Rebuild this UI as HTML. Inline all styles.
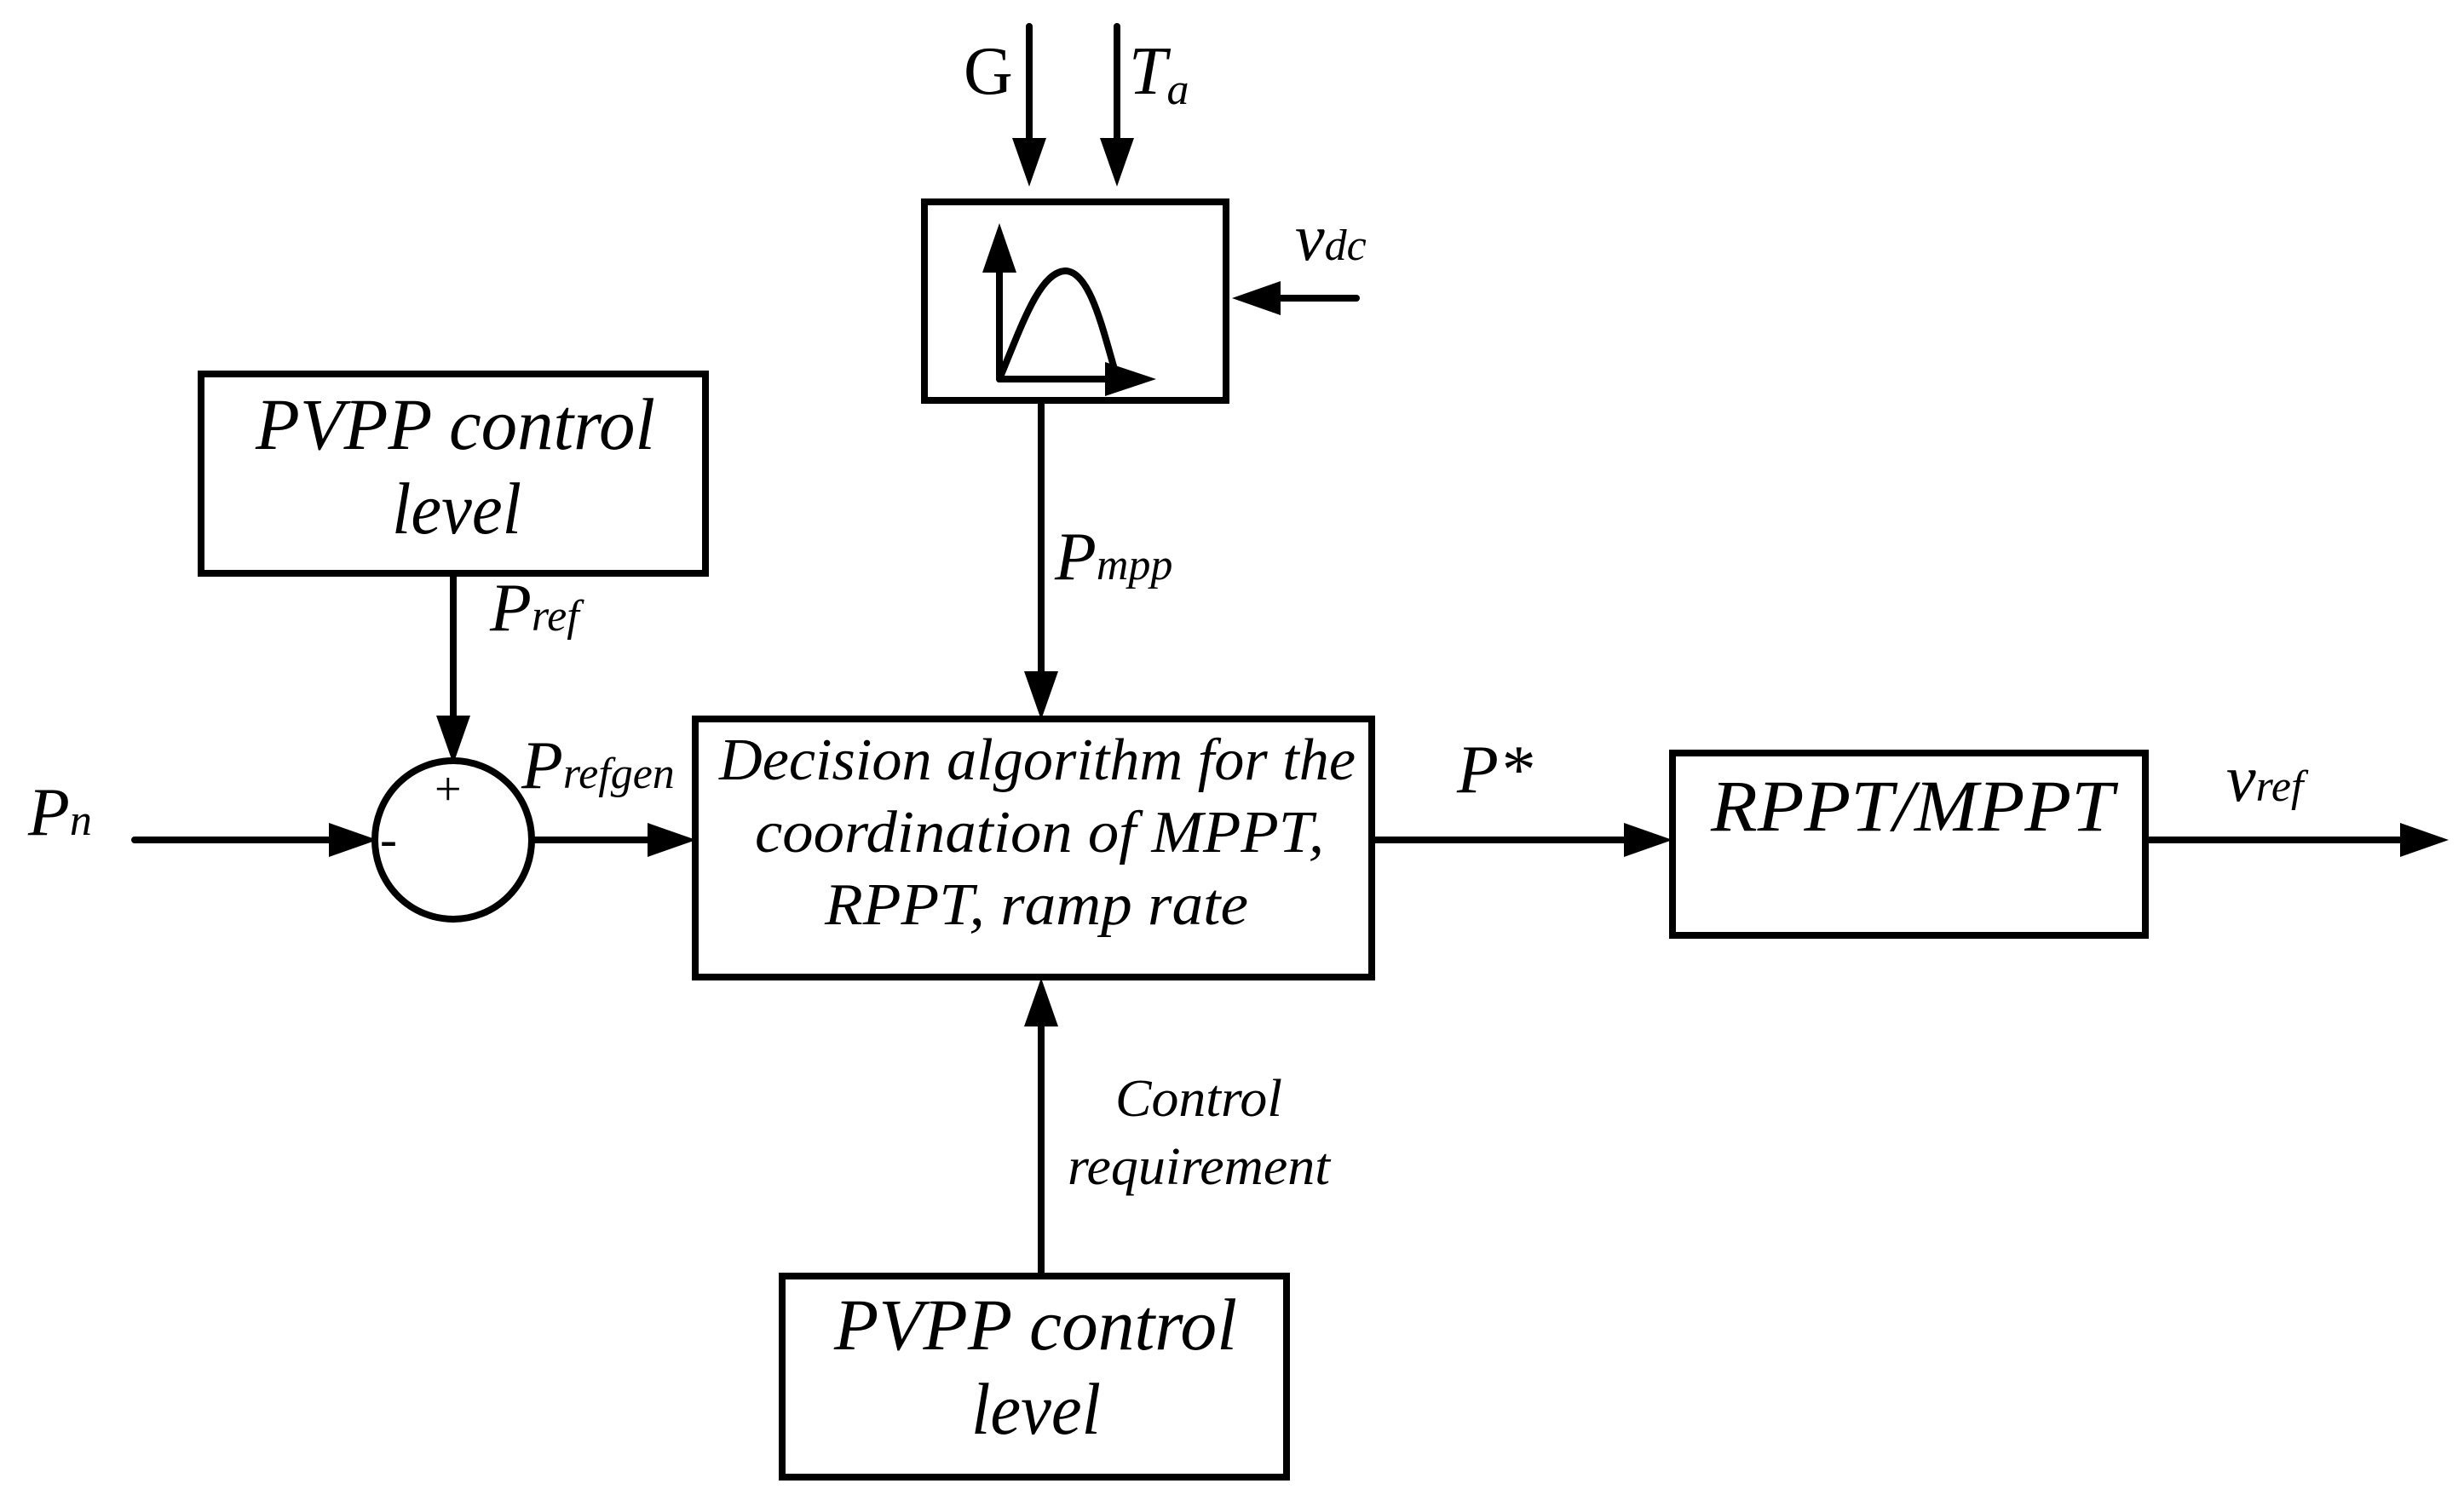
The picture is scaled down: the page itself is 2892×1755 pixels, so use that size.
<!DOCTYPE html>
<html><head><meta charset="utf-8"><style>html,body{margin:0;padding:0;background:#fff}svg{display:block}text{font-family:"Liberation Serif","Times New Roman",serif;font-style:italic;fill:#000}</style></head>
<body>
<svg width="2892" height="1755" viewBox="0 0 2892 1755" xmlns="http://www.w3.org/2000/svg">
<g stroke="#000" stroke-width="8" fill="none" stroke-linecap="round">
<rect x="236" y="439" width="592" height="234"/>
<rect x="816" y="844" width="794" height="303"/>
<rect x="1085" y="237" width="354" height="233"/>
<rect x="1963" y="884" width="555" height="214"/>
<rect x="918" y="1498" width="592" height="236"/>
<ellipse cx="532" cy="986" rx="92" ry="93"/>
<line x1="532" y1="673" x2="532" y2="850"/>
<line x1="158" y1="986" x2="395" y2="986"/>
<line x1="625" y1="986" x2="770" y2="986"/>
<line x1="1222" y1="470" x2="1222" y2="795"/>
<line x1="1208" y1="31" x2="1208" y2="170"/>
<line x1="1311" y1="31" x2="1311" y2="170"/>
<line x1="1592" y1="350" x2="1495" y2="350"/>
<line x1="1610" y1="986" x2="1912" y2="986"/>
<line x1="2518" y1="986" x2="2820" y2="986"/>
<line x1="1222" y1="1498" x2="1222" y2="1200"/>
<line x1="1173" y1="445" x2="1173" y2="310"/>
<line x1="1173" y1="445" x2="1300" y2="445"/>
<path d="M1173 445 C1200 380 1220 320 1250 318 C1280 318 1295 390 1310 440"/>
</g>
<g fill="#000">
<polygon points="512,840 552,840 532,897"/>
<polygon points="386,966 386,1006 443,986"/>
<polygon points="760,966 760,1006 817,986"/>
<polygon points="1202,788 1242,788 1222,845"/>
<polygon points="1188,162 1228,162 1208,219"/>
<polygon points="1291,162 1331,162 1311,219"/>
<polygon points="1503,330 1503,370 1446,350"/>
<polygon points="1906,966 1906,1006 1963,986"/>
<polygon points="2817,966 2817,1006 2874,986"/>
<polygon points="1202,1205 1242,1205 1222,1148"/>
<polygon points="1153,320 1193,320 1173,262"/>
<polygon points="1297,425 1297,465 1357,445"/>
</g>
<text x="300" y="527" font-size="86" textLength="469" lengthAdjust="spacingAndGlyphs">PVPP control</text>
<text x="460" y="626" font-size="86" textLength="152" lengthAdjust="spacingAndGlyphs">level</text>
<text x="979" y="1584" font-size="86" textLength="473" lengthAdjust="spacingAndGlyphs">PVPP control</text>
<text x="1140" y="1683" font-size="86" textLength="152" lengthAdjust="spacingAndGlyphs">level</text>
<text x="844" y="915" font-size="70" textLength="747" lengthAdjust="spacingAndGlyphs">Decision algorithm for the</text>
<text x="886" y="1000" font-size="70" textLength="668" lengthAdjust="spacingAndGlyphs">coordination of MPPT,</text>
<text x="968" y="1085" font-size="70" textLength="497" lengthAdjust="spacingAndGlyphs">RPPT, ramp rate</text>
<text x="2008" y="975" font-size="86" textLength="473" lengthAdjust="spacingAndGlyphs">RPPT/MPPT</text>
<text x="1309" y="1310" font-size="62" textLength="196" lengthAdjust="spacingAndGlyphs">Control</text>
<text x="1253" y="1390" font-size="62" textLength="308" lengthAdjust="spacingAndGlyphs">requirement</text>
<text x="33" y="980" font-size="80">P<tspan font-size="52">n</tspan></text>
<text x="575" y="740" font-size="80">P<tspan font-size="52">ref</tspan></text>
<text x="612" y="925" font-size="80">P<tspan font-size="52">refgen</tspan></text>
<text x="1238" y="680" font-size="80">P<tspan font-size="52">mpp</tspan></text>
<text x="1710" y="930" font-size="80">P*</text>
<text x="2613" y="940" font-size="78">v<tspan font-size="52">ref</tspan></text>
<text x="1520" y="305" font-size="78">v<tspan font-size="52">dc</tspan></text>
<text x="1131" y="110" font-size="80" style="font-style:normal">G</text>
<text x="1325" y="110" font-size="80">T<tspan font-size="52" dy="12">a</tspan></text>
<text x="510" y="945" font-size="56" style="font-style:normal">+</text>
<text x="446" y="1005" font-size="60" style="font-style:normal">-</text>
</svg>
</body></html>
